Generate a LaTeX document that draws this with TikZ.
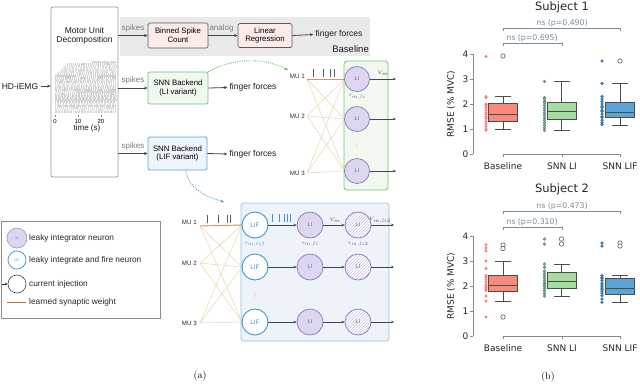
\documentclass[tikz,border=0pt]{standalone}
\usepackage{fontspec}
\newfontfamily\sff{Liberation Sans}
\newfontfamily\dvs{DejaVu Sans}
\usetikzlibrary{arrows.meta,patterns}
\newcommand\myfs[1]{\fontsize{#1}{#1}\selectfont}
\definecolor{bandgray}{HTML}{E9E9E9}
\definecolor{boxedge}{HTML}{5A5A5A}
\definecolor{pinkfill}{HTML}{FDEBEA}
\definecolor{spkgray}{HTML}{7A7A7A}
\definecolor{arrgray}{HTML}{444444}
\definecolor{grnedge}{HTML}{72C474}
\definecolor{grnfill}{HTML}{F1F8EF}
\definecolor{bluedge}{HTML}{5AA3DC}
\definecolor{blufill}{HTML}{EEF4FB}
\definecolor{lboxedge}{HTML}{92C2E6}
\definecolor{lboxfill}{HTML}{EEF3F9}
\definecolor{lipurp}{HTML}{8477C4}
\definecolor{lifill}{HTML}{DCD7EF}
\definecolor{litext}{HTML}{6B5DAE}
\definecolor{lifblue}{HTML}{3D95D6}
\definecolor{wtcol}{HTML}{EBD2AE}
\definecolor{wthcol}{HTML}{C99A62}
\definecolor{narrcol}{HTML}{3E4852}
\definecolor{spkcol}{HTML}{4E5D75}
\definecolor{synbrown}{HTML}{B5703A}
\definecolor{bxsal}{HTML}{F9897C}
\definecolor{bxgrn}{HTML}{A7DCA0}
\definecolor{bxblu}{HTML}{5DA3D6}
\definecolor{ptsal}{HTML}{FA7F72}
\definecolor{ptgrn}{HTML}{6FAE8F}
\definecolor{ptgrnd}{HTML}{3D6B5E}
\definecolor{ptblu}{HTML}{3D86C6}
\definecolor{ptblud}{HTML}{2A5F8F}
\definecolor{brkcol}{HTML}{7B8A9A}
\definecolor{axcol}{HTML}{8A8A8A}
\definecolor{dotgreen}{HTML}{5CB85C}
\definecolor{dotblue}{HTML}{3D8FD0}
\newcommand\mybox[7]{%
  \draw[bxl] (#1,#2) -- (#1,#3) (#1,#5) -- (#1,#6) ({#1-8},#2) -- ({#1+8},#2) ({#1-8},#6) -- ({#1+8},#6);
  \draw[bxl, fill=#7] ({#1-14.5},#3) rectangle ({#1+14.5},#5);
  \draw[bxl] ({#1-14.5},#4) -- ({#1+14.5},#4);}
\begin{document}
\begin{tikzpicture}[x=1pt,y=-1pt,
  txt/.style={font=\sff\myfs{8.5}, inner sep=0pt, text=black!90},
  gtxt/.style={font=\sff\myfs{8}, text=spkgray, inner sep=0pt},
  arr/.style={-{Stealth[length=3.5pt,width=3pt]}, line width=0.8pt, draw=arrgray},
  pbox/.style={draw=boxedge, fill=pinkfill, rounded corners=1.5pt, line width=0.7pt, align=center, font=\sff\myfs{7.8}, inner sep=0pt},
  snnbox/.style={rounded corners=1.5pt, line width=0.8pt, align=center, font=\sff\myfs{7.8}, inner sep=0pt, minimum width=60pt, minimum height=32pt},
  mutxt/.style={font=\sff\myfs{6.2}, inner sep=0pt, text=black!85},
  lin/.style={circle, draw=lipurp, fill=lifill, line width=0.7pt, minimum size=25pt, inner sep=0pt, font=\sff\myfs{5.5}, text=litext},
  lifn/.style={circle, draw=lifblue, fill=white, line width=0.9pt, minimum size=26pt, inner sep=0pt, font=\sff\myfs{6.5}, text=lifblue},
  lih/.style={circle, draw=lipurp, line width=0.7pt, minimum size=26pt, inner sep=0pt, font=\sff\myfs{5.5}, text=litext, preaction={fill=white}, pattern=north east lines, pattern color=lipurp!45},
  wt/.style={draw=wtcol, line width=0.5pt},
  wth/.style={draw=wthcol, line width=0.9pt},
  narr/.style={-{Stealth[length=3pt,width=2.6pt]}, line width=0.7pt, draw=narrcol},
  spk/.style={draw=spkcol, line width=0.8pt},
  bspk/.style={draw=lifblue, line width=0.9pt},
  tau/.style={font=\myfs{5}, inner sep=0pt},
  vlab/.style={font=\myfs{5.5}, inner sep=0pt, text=narrcol},
  legt/.style={font=\sff\myfs{8.3}, inner sep=0pt, anchor=west, text=black!85},
  ptxt/.style={font=\dvs\myfs{9}, inner sep=0pt, text=black!85},
  ttl/.style={font=\dvs\myfs{11.5}, inner sep=0pt, text=black!85},
  nstxt/.style={font=\dvs\myfs{7.8}, inner sep=0pt, text=brkcol},
  brk/.style={draw=brkcol, line width=0.6pt},
  axl/.style={draw=axcol, line width=0.7pt},
  bxl/.style={draw=black!70, line width=0.8pt},
  outl/.style={draw=black!65, line width=0.6pt, fill=white},
  vdot/.style={fill=black!45}
]
\useasboundingbox (0,0) rectangle (640,384);

% ---------------- panel (a) ----------------
% baseline band
\fill[bandgray] (120,17) rectangle (370,56);
\node[txt, anchor=east, font=\sff\myfs{9.5}] (basel) at (369,49) {Baseline};

% motor unit decomposition
\node[draw=black!40, fill=white, rounded corners=2pt, line width=0.8pt, minimum width=67pt, minimum height=170pt] (mud) at (84.5,92) {};
\node[txt, align=center, font=\sff\myfs{8.5}] (mudt) at (84.5,36) {Motor Unit\\[1pt]Decomposition};
% raster
\pgfmathsetseed{7}
\foreach \i in {0,...,25}{
  \pgfmathsetmacro\xs{\i==0 ? 92 : 55+max(0,7-\i)*2}
  \pgfmathsetmacro\ph{rnd*2}
  \pgfmathsetmacro\offl{0.3+rnd*0.7}
  \pgfmathsetmacro\onl{0.6+rnd*0.9}
  \pgfmathsetmacro\yy{62+2*\i}
  \pgfmathsetmacro\gr{12+rnd*8}
  \draw[black!\gr, line width=1.3pt, dash pattern=on \onl pt off \offl pt, dash phase=\ph pt] (\xs,\yy) -- (116,\yy);
}
\foreach \x/\l in {55/0,78/10,101/20}{
  \draw[black!50, line width=0.4pt] (\x,115) -- (\x,117);
  \node[font=\sff\myfs{6}, inner sep=0pt] (rt\l) at (\x,121.5) {\l};
}
\node[txt, font=\sff\myfs{8}] (timel) at (87,128.5) {time (s)};

% input
\node[txt] (hd) at (20,86) {HD-iEMG};
\draw[arr] (hd.east) ++(3,0) -- (hd -| mud.west);

% baseline pipeline
\node[pbox, minimum width=60pt, minimum height=25pt] (bsc) at (178,35.5) {Binned Spike\\[1pt]Count};
\node[pbox, minimum width=54pt, minimum height=24pt] (lr) at (265,35.5) {Linear\\[1pt]Regression};
\node[txt] (ff1) at (339,34.5) {finger forces};
\draw[arr] (mud.east |- bsc) -- node[gtxt, above=3pt, pos=0.5] (sp1) {spikes} (bsc.west);
\draw[arr] (bsc.east) -- node[gtxt, above=3pt, pos=0.45] (an1) {analog} (lr.west);
\draw[arr] (lr.east) -- ([xshift=-2pt]ff1.west);

% SNN LI
\node[snnbox, draw=grnedge, fill=grnfill] (snnli) at (178,88) {SNN Backend\\[1pt](LI variant)};
\node[txt] (ff2) at (253,87.5) {finger forces};
\draw[arr] (mud.east |- snnli) -- node[gtxt, above=3pt] (sp2) {spikes} (snnli.west);
\draw[arr] (snnli.east) -- ([xshift=-2pt]ff2.west);

% SNN LIF
\node[snnbox, draw=bluedge, fill=blufill, minimum width=59pt, minimum height=33pt] (snnlif) at (177.5,153.5) {SNN Backend\\[1pt](LIF variant)};
\node[txt] (ff3) at (253,154) {finger forces};
\draw[arr] (mud.east |- snnlif) -- node[gtxt, above=3pt] (sp3) {spikes} (snnlif.west);
\draw[arr] (snnlif.east) -- ([xshift=-2pt]ff3.west);

% dotted pointers
\coordinate (gend) at (288,70);
\draw[dotgreen, line width=0.9pt, dash pattern=on 0.9pt off 1.3pt, -{Stealth[length=3.5pt,width=3pt]}] (snnli.north east) .. controls (235,57) and (265,58) .. (gend);
\coordinate (bend) at (224,202);
\draw[dotblue, line width=0.9pt, dash pattern=on 0.9pt off 1.3pt, -{Stealth[length=3.5pt,width=3pt]}] ([xshift=8pt]snnlif.south) .. controls (190,190) and (205,196) .. (bend);

% ---------- upper network (LI) ----------
\draw[grnedge, fill=grnfill, rounded corners=3pt, line width=0.8pt] (344,61) rectangle (388,190);
\coordinate (pa1) at (307,79);
\coordinate (pa2) at (307,116);
\coordinate (pa3) at (307,173);
\node[mutxt, anchor=east] (mua1) at (305,76) {MU 1};
\node[mutxt, anchor=east] (mua2) at (305,116) {MU 2};
\node[mutxt, anchor=east] (mua3) at (305,173) {MU 3};
\coordinate (lw1) at (344.5,79);
\coordinate (lw2) at (344.5,119);
\coordinate (lw3) at (344.5,171);
\foreach \i in {1,2,3}{\foreach \j in {1,2,3}{\draw[wt] (pa\i) -- (lw\j);}}
\draw[wth] (pa1) -- (lw1);
\node[lin] (li1) at (357,79) {LI};
\node[lin] (li2) at (357,119) {LI};
\node[lin] (li3) at (357,171) {LI};
\foreach \x in {313,323,330,334}{\draw[spk] (\x,69) -- (\x,77);}
\coordinate (oa1) at (396,79);
\coordinate (oa2) at (396,119);
\coordinate (oa3) at (396,171);
\draw[narr] (li1) -- (oa1);
\draw[narr] (li2) -- (oa2);
\draw[narr] (li3) -- (oa3);
\node[vlab] (vma) at (383,73) {$V_m$};
\node[tau, text=litext] (taua) at (357,97) {$\tau_{m,li}$};
\foreach \d in {143,145,147}{\fill[vdot] (357,\d) circle[radius=0.35pt];}

% ---------- lower network (LIF) ----------
\draw[lboxedge, fill=lboxfill, rounded corners=3pt, line width=0.8pt] (241,203) rectangle (389,341);
\coordinate (pb1) at (200,226);
\coordinate (pb2) at (200,263);
\coordinate (pb3) at (200,323);
\node[mutxt, anchor=east] (mub1) at (197,222.5) {MU 1};
\node[mutxt, anchor=east] (mub2) at (197,263) {MU 2};
\node[mutxt, anchor=east] (mub3) at (197,323) {MU 3};
\coordinate (fw1) at (242,225);
\coordinate (fw2) at (242,267);
\coordinate (fw3) at (242,322);
\foreach \i in {1,2,3}{\foreach \j in {1,2,3}{\draw[wt] (pb\i) -- (fw\j);}}
\draw[wth] (pb1) -- (fw1);
\foreach \x in {207,218,227,230}{\draw[spk] (\x,215) -- (\x,223);}
\node[lifn] (lif1) at (255,225) {LIF};
\node[lifn] (lif2) at (255,267) {LIF};
\node[lifn] (lif3) at (255,322) {LIF};
\node[lin, minimum size=26pt] (lb1) at (310,225) {LI};
\node[lin, minimum size=26pt] (lb2) at (310,267) {LI};
\node[lin, minimum size=26pt] (lb3) at (310,322) {LI};
\node[lih] (lh1) at (358,225) {LI};
\node[lih] (lh2) at (358,267) {LI};
\node[lih] (lh3) at (358,322) {LI};
\foreach \k in {1,2,3}{
  \draw[narr] (lif\k) -- (lb\k);
  \draw[narr] (lb\k) -- (lh\k);
}
\coordinate (ob1) at (394,225);
\coordinate (ob2) at (394,267);
\coordinate (ob3) at (394,322);
\draw[narr] (lh1) -- (ob1);
\draw[narr] (lh2) -- (ob2);
\draw[narr] (lh3) -- (ob3);
\foreach \x in {272,279,284,287,290}{\draw[bspk] (\x,214) -- (\x,222);}
\node[vlab] (vmb) at (335,220) {$V_m$};
\node[vlab] (vmc) at (380,220) {$V_{m,li2}$};
\node[tau, text=lifblue] (taub) at (255,244.5) {$\tau_{m,lif}$};
\node[tau, text=litext] (tauc) at (310,244.5) {$\tau_{m,li}$};
\node[tau, text=litext] (taud) at (358,244.5) {$\tau_{m,li2}$};
\foreach \d in {293,295,297}{\fill[vdot] (255,\d) circle[radius=0.35pt];}

% ---------- legend ----------
\draw[black!45, fill=white, line width=0.8pt] (1,221) rectangle (160,318);
\node[circle, draw=lipurp!80, fill=lifill, line width=0.6pt, minimum size=20pt, inner sep=0pt, font=\sff\myfs{3.5}, text=litext] (lg1) at (17,238) {LI};
\node[legt] (lgt1) at (29,238) {leaky integrator neuron};
\node[circle, draw=lifblue, fill=white, line width=0.7pt, minimum size=18pt, inner sep=0pt, font=\sff\myfs{3.5}, text=lifblue] (lg2) at (17,260) {LIF};
\node[legt] (lgt2) at (29,260) {leaky integrate and fire neuron};
\node[circle, draw=black!75, fill=white, line width=0.6pt, minimum size=18pt, inner sep=0pt] (lg3) at (17,284) {};
\coordinate (cjs) at (2,284);
\draw[-{Stealth[length=3pt,width=2.6pt]}, line width=0.6pt, draw=black!80] (cjs) -- (lg3.west);
\node[legt] (lgt3) at (29,284) {current injection};
\coordinate (swa) at (7,302);
\coordinate (swb) at (26,302);
\draw[synbrown, line width=1pt] (swa) -- (swb);
\node[legt] (lgt4) at (29,302) {learned synaptic weight};

\node[font=\myfs{10}, inner sep=0pt] (capa) at (200,376) {(a)};

% ---------------- panel (b) ----------------
% Subject 1
\node[ttl] (ti1) at (562,7) {Subject 1};
\node[ptxt, rotate=90] (yl1) at (451,104) {RMSE (\% MVC)};
\draw[brk] (503,31) -- (503,28) -- (620,28) -- (620,31);
\node[nstxt] (ns1) at (562,23.5) {ns (p=0.490)};
\draw[brk] (503,46) -- (503,43) -- (562,43) -- (562,46);
\node[nstxt] (ns2) at (532,38.5) {ns (p=0.695)};
\begin{scope}[shift={(0,154)}, y=25pt]
  \draw[axl] (473,0) -- (473,4);
  \foreach \v in {0,...,4}{
    \draw[axl] (470,\v) -- (473,\v);
    \node[ptxt, anchor=east] (ya\v) at (468.5,\v) {\v};
  }
  \draw[axl] (503,0) -- (620,0);
  \foreach \x/\n/\l in {503/a/Baseline,562/b/SNN LI,620/c/SNN LIF}{
    \draw[axl] (\x,0) -- (\x,-0.12);
    \node[ptxt] (xa\n) at (\x,-0.5) {\l};
  }
  \mybox{503}{0.98}{1.29}{1.57}{2.03}{2.32}{bxsal}
  \mybox{561.5}{0.93}{1.40}{1.72}{2.07}{2.90}{bxgrn}
  \mybox{620}{1.15}{1.45}{1.67}{2.07}{2.82}{bxblu}
  \draw[outl] (503,3.92) circle[radius=2.2pt];
  \draw[outl] (620,3.72) circle[radius=2.2pt];
  \foreach \v in {3.9,2.3,2.25,2.0,1.97,1.93,1.85,1.75,1.65,1.6,1.5,1.42,1.3,1.2,1.1,1.0,0.95}{\fill[ptsal] (486,\v) circle[radius=1.6pt];}
  \foreach \v in {2.9,2.25,2.2,2.1,2.05,1.95,1.85,1.75,1.65,1.55,1.45,1.35,1.25,1.15,1.05,0.95}{\filldraw[fill=ptgrn, draw=ptgrnd, line width=0.3pt] (544.5,\v) circle[radius=1.5pt];}
  \foreach \v in {3.72,2.82,2.3,2.2,2.1,2.0,1.9,1.85,1.75,1.7,1.6,1.5,1.45,1.35,1.25,1.18}{\filldraw[fill=ptblu, draw=ptblud, line width=0.3pt] (602,\v) circle[radius=1.5pt];}
\end{scope}

% Subject 2
\node[ttl] (ti2) at (562,189) {Subject 2};
\node[ptxt, rotate=90] (yl2) at (451,286) {RMSE (\% MVC)};
\draw[brk] (503,214) -- (503,211) -- (620,211) -- (620,214);
\node[nstxt] (ns3) at (562,206.5) {ns (p=0.473)};
\draw[brk] (503,230) -- (503,227) -- (562,227) -- (562,230);
\node[nstxt] (ns4) at (532,222.5) {ns (p=0.310)};
\begin{scope}[shift={(0,336)}, y=25pt]
  \draw[axl] (473,0) -- (473,4);
  \foreach \v in {0,...,4}{
    \draw[axl] (470,\v) -- (473,\v);
    \node[ptxt, anchor=east] (yb\v) at (468.5,\v) {\v};
  }
  \draw[axl] (503,0) -- (620,0);
  \foreach \x/\n/\l in {503/a/Baseline,562/b/SNN LI,620/c/SNN LIF}{
    \draw[axl] (\x,0) -- (\x,-0.12);
    \node[ptxt] (xb\n) at (\x,-0.5) {\l};
  }
  \mybox{503}{1.40}{1.80}{2.03}{2.44}{3.00}{bxsal}
  \mybox{561.5}{1.59}{1.92}{2.19}{2.56}{2.88}{bxgrn}
  \mybox{620}{1.35}{1.68}{1.92}{2.32}{2.43}{bxblu}
  \foreach \v in {3.64,3.5,0.76}{\draw[outl] (503,\v) circle[radius=2.2pt];}
  \foreach \v in {3.88,3.68}{\draw[outl] (561.5,\v) circle[radius=2.2pt];}
  \foreach \v in {3.72,3.6}{\draw[outl] (620,\v) circle[radius=2.2pt];}
  \foreach \v in {3.65,3.52,3.4,3.0,2.7,2.42,2.35,2.25,2.15,2.05,2.0,1.95,1.88,1.82,1.6,1.4,0.76}{\fill[ptsal] (486,\v) circle[radius=1.6pt];}
  \foreach \v in {3.88,3.68,2.88,2.75,2.6,2.5,2.42,2.32,2.22,2.12,2.05,1.98,1.9,1.8,1.7,1.6}{\filldraw[fill=ptgrn, draw=ptgrnd, line width=0.3pt] (544.5,\v) circle[radius=1.5pt];}
  \foreach \v in {3.72,3.6,2.42,2.35,2.3,2.22,2.12,2.05,1.98,1.92,1.86,1.8,1.72,1.62,1.48,1.35}{\filldraw[fill=ptblu, draw=ptblud, line width=0.3pt] (602,\v) circle[radius=1.5pt];}
\end{scope}

\node[font=\myfs{10}, inner sep=0pt] (capb) at (548,377) {(b)};
\end{tikzpicture}
\end{document}
